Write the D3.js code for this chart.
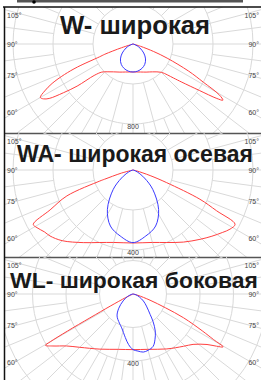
<!DOCTYPE html>
<html>
<head>
<meta charset="utf-8">
<script src="https://cdn.jsdelivr.net/npm/d3@7"></script>
<style>
  body { margin: 0; background: #fff; }
  svg { display: block; }
</style>
</head>
<body>
<div id="chart"></div>
<script>
// titles and grid values for the three diagrams
var titles = ["W- широкая", "WA- широкая осевая", "WL- широкая боковая"];
var ringLabels = [800, 400, 400];
var ringSteps = [400, 200, 200];
var angleLabels = [105, 90, 75, 60];

// [angle from nadir in degrees (right +), intensity cd]
var redW = [[-90,0],[-76,0],[-72,120],[-70,300],[-69,360],[-67.5,600],[-66,750],[-64,900],[-62,1000],[-60,1070],
  [-58.5,1050],[-57,1000],[-55,850],[-53,700],[-51,500],[-48,420],[-43,380],[-35,340],[-25,310],[-15,290],[0,280],
  [15,290],[25,310],[35,340],[45,400],[48,460],[50,530],[52,620],[55,810],[57,1000],[58,1060],[59.5,1000],
  [61.5,800],[64,620],[67.5,370],[70,220],[73,80],[76,0],[90,0]];
var blueW = [[-90,0],[-75,10],[-65,50],[-60,80],[-50,140],[-40,195],[-30,235],[-20,260],[-10,275],[0,280],
  [10,275],[20,260],[30,235],[40,195],[50,140],[60,80],[65,50],[75,10],[90,0]];

var redWA = [[-90,0],[-80,0],[-75,60],[-72,150],[-71.6,175],[-68.6,355],[-64.3,460],[-61.4,568],[-59,560],
  [-55,540],[-51.5,530],[-45,500],[-34.4,440],[-25,400],[-15,375],[0,365],[15,375],[25,400],[35,440],[44,482],
  [50,515],[55,545],[58.6,568],[62,578],[64,465],[66.4,365],[69.4,180],[72,90],[76,20],[80,0],[90,0]];
var blueWA = [[-90,0],[-75,5],[-65,25],[-55,70],[-45.6,138],[-33,235],[-22,302],[-11,336],[0,363],
  [11,336],[22,302],[33,235],[45.6,138],[55,70],[65,25],[75,5],[90,0]];

var redWL = [[-90,0],[-68,0],[-64,48],[-62,150],[-61,294],[-60.5,450],[-60,570],[-59.6,606],[-57,570],
  [-52,504],[-45,450],[-31,384],[-15,342],[0,332],[15,342],[31.6,385],[44,434],[50,468],[55.7,535],[58,588],
  [59.6,624],[60.5,552],[62,468],[64.8,334],[67,210],[70,108],[75,30],[80,0],[90,0]];
var blueWL = [[-90,0],[-80,6],[-65,36],[-55,72],[-45,120],[-36,162],[-25,192],[-18.5,213],[-10,264],[-5,303],
  [0,332],[5,342],[10,352],[15,348],[21,335],[26,300],[31,258],[36,204],[40,159],[48,108],[56,75],[65,42],
  [75,18],[90,0]];

var reds = [redW, redWA, redWL];
var blues = [blueW, blueWA, blueWL];

var width = 261, height = 380;
var panelTops = [7, 133, 257],
    panelBottoms = [133, 257, 380],
    ringPx = [80, 80, 67],
    titleWidths = [150, 236, 248],
    titleX = [135, 135, 134],
    titleDy = [27, 29, 31];
var cx = 133;

var svg = d3.select("#chart")
  .append("svg")
  .attr("width", width)
  .attr("height", height);

// header decoration
svg.append("rect")
  .attr("x", 17).attr("y", 0)
  .attr("width", 226).attr("height", 2.5)
  .attr("fill", "#555");
svg.append("circle")
  .attr("cx", 34).attr("cy", 2)
  .attr("r", 1.8)
  .attr("fill", "#000");

var toRad = Math.PI / 180;

titles.forEach(function(title, i) {
  var top = panelTops[i], bottom = panelBottoms[i];
  var cy = top + 37;
  var r = d3.scaleLinear().domain([0, ringLabels[i]]).range([0, ringPx[i]]);

  svg.append("clipPath")
    .attr("id", "clip" + i)
    .append("rect")
    .attr("x", 5).attr("y", top)
    .attr("width", width - 5).attr("height", bottom - top);

  var g = svg.append("g").attr("clip-path", "url(#clip" + i + ")");
  var grid = g.append("g").attr("transform", `translate(${cx},${cy})`);

  // rings
  d3.range(1, 8).forEach(function(k) {
    grid.append("circle")
      .attr("r", r(k * ringSteps[i]))
      .attr("fill", "none")
      .attr("stroke", "#d9d9d9")
      .attr("stroke-width", 1);
  });

  // spokes
  d3.range(0, 360, 7.5).forEach(function(a) {
    var r0 = (a % 15 === 0) ? r(ringSteps[i]) : r(2 * ringSteps[i]);
    var s = Math.sin(a * toRad), c = Math.cos(a * toRad);
    grid.append("line")
      .attr("x1", r0 * s).attr("y1", r0 * c)
      .attr("x2", 400 * s).attr("y2", 400 * c)
      .attr("stroke", "#d9d9d9")
      .attr("stroke-width", 1);
  });

  // angle labels on both edges
  angleLabels.forEach(function(a) {
    var y = cy + 119 / Math.tan(a * toRad) + 2.5 + (a > 90 ? 3 : 0);
    g.append("text")
      .attr("x", 7).attr("y", y)
      .attr("font-family", "Liberation Sans, Arial, sans-serif")
      .attr("font-size", 7)
      .attr("fill", "#444")
      .text(a + "°");
    g.append("text")
      .attr("x", width - 2).attr("y", y)
      .attr("text-anchor", "end")
      .attr("font-family", "Liberation Sans, Arial, sans-serif")
      .attr("font-size", 7)
      .attr("fill", "#444")
      .text(a + "°");
  });

  // ring value label
  g.append("text")
    .attr("x", cx).attr("y", cy + r(ringLabels[i]) + 5)
    .attr("text-anchor", "middle")
    .attr("font-family", "Liberation Sans, Arial, sans-serif")
    .attr("font-size", 7)
    .attr("fill", "#444")
    .text(ringLabels[i]);

  // intensity curves
  var line = d3.lineRadial()
    .angle(d => Math.PI - d[0] * toRad)
    .radius(d => r(d[1]))
    .curve(d3.curveCatmullRom.alpha(0.5));

  grid.append("path")
    .attr("d", line(reds[i]))
    .attr("fill", "none")
    .attr("stroke", "#ff4040")
    .attr("stroke-width", 1);

  grid.append("path")
    .attr("d", line(blues[i]))
    .attr("fill", "none")
    .attr("stroke", "#3a3aff")
    .attr("stroke-width", 1);

  // title, sized to its measured width
  var t = g.append("text")
    .attr("x", titleX[i]).attr("y", top + titleDy[i])
    .attr("text-anchor", "middle")
    .attr("font-family", "Liberation Sans, Arial, sans-serif")
    .attr("font-weight", "bold")
    .attr("font-size", 24)
    .attr("fill", "#1a1a1a")
    .text(title);
  var w = t.node().getComputedTextLength();
  t.attr("font-size", 24 * titleWidths[i] / w);

  // separator under panel
  if (i < 2) {
    svg.append("line")
      .attr("x1", 4).attr("x2", width)
      .attr("y1", bottom + 0.5).attr("y2", bottom + 0.5)
      .attr("stroke", "#555")
      .attr("stroke-width", 1.5);
  }
});

// frame lines
svg.append("line")
  .attr("x1", 3).attr("x2", width)
  .attr("y1", 7).attr("y2", 7)
  .attr("stroke", "#111")
  .attr("stroke-width", 1.5);
svg.append("line")
  .attr("x1", 4.5).attr("x2", 4.5)
  .attr("y1", 7).attr("y2", height)
  .attr("stroke", "#111")
  .attr("stroke-width", 1.5);
</script>
</body>
</html>
